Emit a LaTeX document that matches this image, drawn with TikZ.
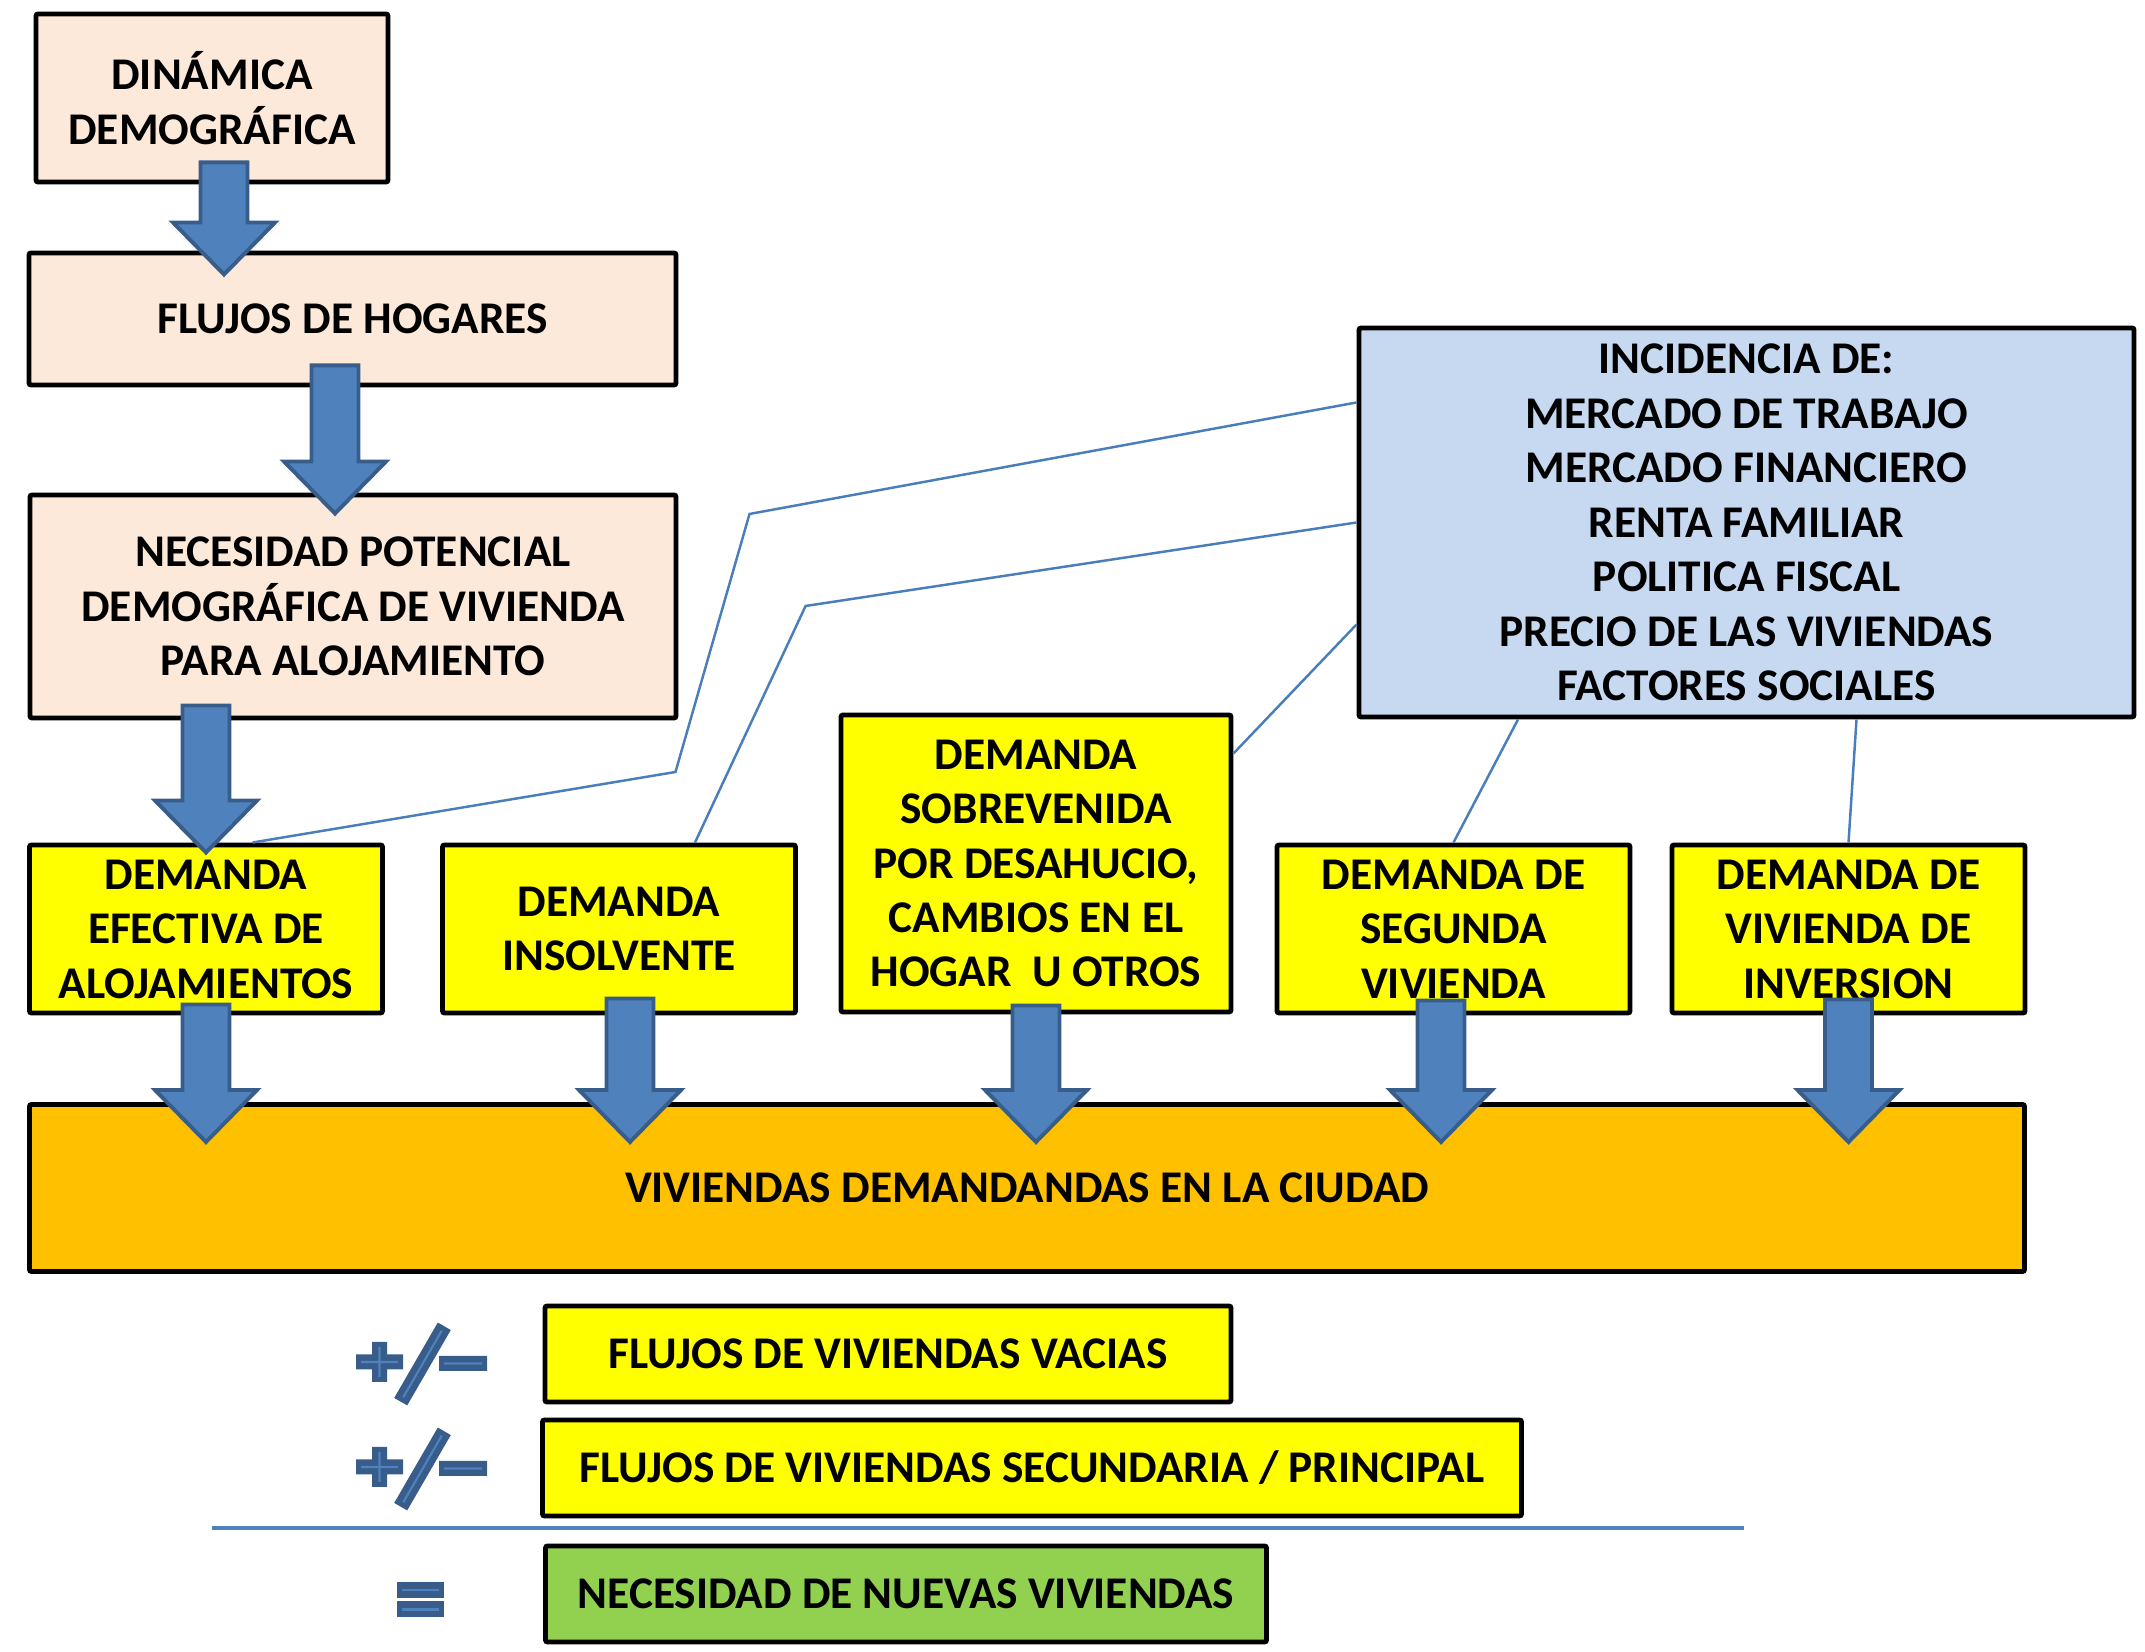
\documentclass[tikz,border=0pt]{standalone}
\usepackage{fontspec}
\setmainfont{Carlito}
\usetikzlibrary{calc}

\definecolor{peach}{HTML}{FDE9D9}
\definecolor{lemon}{HTML}{FFFF00}
\definecolor{skyblue}{HTML}{C6D9F1}
\definecolor{amber}{HTML}{FFC000}
\definecolor{leaf}{HTML}{92D050}
\definecolor{arrowblue}{HTML}{4F81BD}
\definecolor{arrowedge}{HTML}{385D8A}
\definecolor{linkblue}{HTML}{4A7EBB}

\tikzset{
  box/.style={draw=black, line width=1.4pt, rounded corners=0.6pt, align=center,
    inner sep=0pt, font=\fontsize{12.9}{15.5}\selectfont\bfseries},
  demand/.style={box, fill=lemon, minimum width=3.53cm, minimum height=1.68cm},
  flowbox/.style={box, minimum height=0.96cm},
  link/.style={draw=linkblue, line width=0.7pt},
  blockarrow/.style={fill=arrowblue, draw=arrowedge, line width=1.1pt, line join=miter},
  signdark/.style={draw=arrowedge, line width=1.5mm, line cap=butt},
  signlight/.style={draw=arrowblue, line width=0.6pt},
  rule/.style={draw=arrowblue, line width=1.1pt}
}

% block arrow from tail #1 down to tip #2
\newcommand{\bigarrow}[2]{%
  \draw[blockarrow] ($(#1)+(-0.235,0)$) -- ($(#2)+(-0.235,0.52)$) -- ($(#2)+(-0.51,0.52)$)
    -- (#2) -- ($(#2)+(0.51,0.52)$) -- ($(#2)+(0.235,0.52)$) -- ($(#1)+(0.235,0)$) -- cycle;}

\begin{document}
\begin{tikzpicture}
  \useasboundingbox (0,0) rectangle (21.45,16.52);

  % Household chain
  \node[box, fill=peach, minimum width=3.52cm, minimum height=1.68cm] (dinamica) at (2.12,15.54) {DINÁMICA\\DEMOGRÁFICA};
  \node[box, fill=peach, minimum width=6.47cm, minimum height=1.32cm] (hogares) at (3.525,13.33) {FLUJOS DE HOGARES};
  \node[box, fill=peach, minimum width=6.46cm, minimum height=2.23cm] (necesidad) at (3.53,10.455) {NECESIDAD POTENCIAL\\DEMOGRÁFICA DE VIVIENDA\\PARA ALOJAMIENTO};

  % Factors
  \node[box, fill=skyblue, minimum width=7.75cm, minimum height=3.89cm] (incidencia) at (17.465,11.295)
    {INCIDENCIA DE:\\MERCADO DE TRABAJO\\MERCADO FINANCIERO\\RENTA FAMILIAR\\POLITICA FISCAL\\PRECIO DE LAS VIVIENDAS\\FACTORES SOCIALES};

  % Demand types
  \node[demand] (efectiva) at (2.06,7.23) {DEMANDA\\EFECTIVA DE\\ALOJAMIENTOS};
  \node[demand] (insolvente) at (6.19,7.23) {DEMANDA\\INSOLVENTE};
  \node[demand, minimum width=3.90cm, minimum height=2.97cm] (sobrevenida) at (10.36,7.885)
    {DEMANDA\\SOBREVENIDA\\POR DESAHUCIO,\\CAMBIOS EN EL\\HOGAR\ \ U OTROS};
  \node[demand] (segunda) at (14.535,7.23) {DEMANDA DE\\SEGUNDA\\VIVIENDA};
  \node[demand] (inversion) at (18.485,7.23) {DEMANDA DE\\VIVIENDA DE\\INVERSION};

  % City total
  \node[box, fill=amber, minimum width=19.95cm, minimum height=1.67cm] (ciudad) at (10.27,4.64) {VIVIENDAS DEMANDANDAS EN LA CIUDAD};

  % Balance
  \node[flowbox, fill=lemon, minimum width=6.86cm] (vacias) at (8.88,2.98) {FLUJOS DE VIVIENDAS VACIAS};
  \node[flowbox, fill=lemon, minimum width=9.79cm] (secundaria) at (10.32,1.84) {FLUJOS DE VIVIENDAS SECUNDARIA / PRINCIPAL};
  \node[flowbox, fill=leaf, minimum width=7.21cm] (nuevas) at (9.06,0.58) {NECESIDAD DE NUEVAS VIVIENDAS};

  % Links from the factors
  \coordinate (bend1a) at (7.495,11.38);
  \coordinate (bend1b) at (6.755,8.80);
  \coordinate (bend2) at (8.056,10.46);
  \draw[link] ([yshift=1.2cm]incidencia.west) -- (bend1a) -- (bend1b) -- ([xshift=0.465cm]efectiva.north);
  \draw[link] (incidencia.west) -- (bend2) -- ([xshift=0.76cm]insolvente.north);
  \draw[link] ([yshift=-1.02cm]incidencia.west) -- ([yshift=1.1cm]sobrevenida.east);
  \draw[link] ([xshift=-2.285cm]incidencia.south) -- (segunda.north);
  \draw[link] ([xshift=1.1cm]incidencia.south) -- (inversion.north);

  % Block arrows down the chain
  \coordinate (a1s) at ($(dinamica.south)+(0.12,0.22)$);
  \coordinate (a1t) at ($(a1s |- hogares.north)+(0,-0.24)$);
  \bigarrow{a1s}{a1t}
  \coordinate (a2s) at ($(hogares.south)+(-0.175,0.22)$);
  \coordinate (a2t) at ($(a2s |- necesidad.north)+(0,-0.21)$);
  \bigarrow{a2s}{a2t}
  \coordinate (a3s) at ($(necesidad.south)+(-1.47,0.15)$);
  \coordinate (a3t) at ($(a3s |- efectiva.north)+(0,-0.10)$);
  \bigarrow{a3s}{a3t}

  % Block arrows into the city box
  \foreach \src/\dx/\dy in {efectiva/0/0.11, insolvente/0.11/0.17, sobrevenida/0/0.09, segunda/-0.125/0.15, inversion/0/0.16} {
    \coordinate (tail) at ($(\src.south)+(\dx,\dy)$);
    \coordinate (head) at ($(tail |- ciudad.north)+(0,-0.40)$);
    \bigarrow{tail}{head}
  }

  % Plus/minus signs
  \foreach \yy in {0,-1.05} {
    \begin{scope}[yshift=\yy cm]
      \draw[signdark] (3.56,2.90) -- (4.03,2.90) (3.795,2.70) -- (3.795,3.10)
        (4.007,2.503) -- (4.443,3.257) (4.39,2.885) -- (4.87,2.885);
      \draw[signlight] (3.61,2.90) -- (3.98,2.90) (3.795,2.75) -- (3.795,3.05)
        (4.032,2.546) -- (4.418,3.214) (4.44,2.885) -- (4.82,2.885);
    \end{scope}
  }

  % Sum line
  \draw[rule] (2.12,1.24) -- (17.44,1.24);

  % Equals sign
  \draw[signdark, line width=1.6mm] (3.97,0.62) -- (4.44,0.62) (3.97,0.425) -- (4.44,0.425);
  \draw[signlight] (4.02,0.62) -- (4.39,0.62) (4.02,0.425) -- (4.39,0.425);
\end{tikzpicture}
\end{document}
